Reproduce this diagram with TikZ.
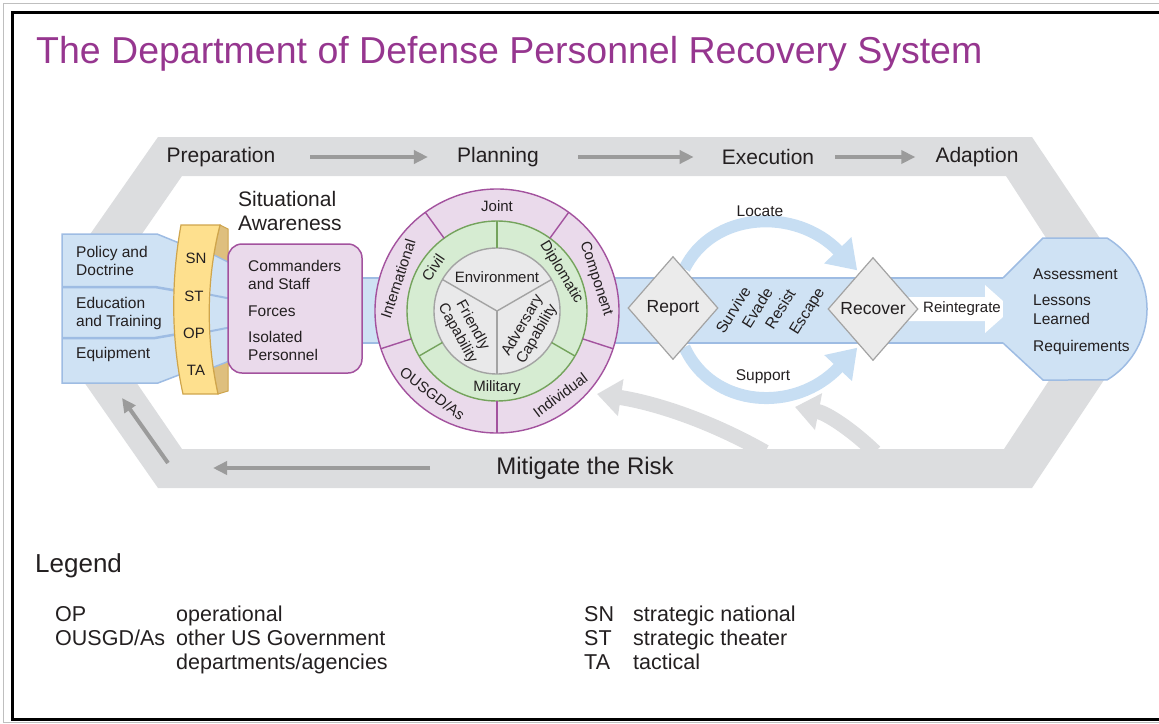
\documentclass[tikz,border=0pt]{standalone}
\usepackage{fontspec}
\setmainfont{Liberation Sans}
\usetikzlibrary{arrows.meta,shapes.geometric,calc}
\newcommand\fsz[2]{\fontsize{#1}{#2}\selectfont}
\definecolor{bandgray}{HTML}{DCDDDF}
\definecolor{arrgray}{HTML}{9B9B9B}
\definecolor{blfill}{HTML}{CFE2F4}
\definecolor{blline}{HTML}{9EBCE3}
\definecolor{ltblue}{HTML}{C7DEF3}
\definecolor{pkfill}{HTML}{EADAEB}
\definecolor{pkline}{HTML}{A3529E}
\definecolor{gnfill}{HTML}{D6ECD2}
\definecolor{gnline}{HTML}{74A35C}
\definecolor{gyfill}{HTML}{E9E9EA}
\definecolor{gyline}{HTML}{A3A3A3}
\definecolor{diafill}{HTML}{EBEBEB}
\definecolor{ylfill}{HTML}{FEE08E}
\definecolor{ylline}{HTML}{CFA54C}
\definecolor{yldark}{HTML}{DEBF7E}
\definecolor{titlec}{HTML}{96368F}
\definecolor{txt}{HTML}{231F20}
\pgfdeclarelayer{bg}
\pgfdeclarelayer{arr}
\pgfsetlayers{bg,arr,main}
\begin{document}
\begin{tikzpicture}[x=1pt,y=-1pt,
  every node/.style={text=txt, inner sep=0pt},
  phase/.style={font={\fsz{21}{24}}},
  lbl/.style={font={\fsz{15.5}{18}}},
  clbl/.style={font={\fsz{15}{17}}},
  exlbl/.style={font={\fsz{15.5}{17}}},
  legtxt/.style={anchor=base west, font={\fsz{21.5}{24}}},
  bandarrow/.style={draw=arrgray, line width=4pt, -{Triangle[length=14pt,width=13pt]}},
  bigarrow/.style={draw=bandgray, line width=15pt, -{Triangle[length=24pt,width=36pt]}},
  bluearrow/.style={draw=ltblue, line width=12pt, -{Triangle[length=28pt,width=36pt]}},
  dia/.style={diamond, draw=gyline, fill=diafill, line width=1.2pt, minimum width=90pt, minimum height=103pt, inner sep=0pt, font={\fsz{17.5}{20}}},
]
\useasboundingbox (0,0) rectangle (1159,723);
\clip (0,0) rectangle (1159,723);

% frame
\draw[black!25, line width=1pt] (1170,3.5) -- (3.5,3.5) -- (3.5,722.5) -- (1170,722.5);
\draw[black, line width=2.5pt] (1170,12.5) -- (12.5,12.5) -- (12.5,719.5) -- (1170,719.5);

% title
\node[anchor=base west, text=titlec, font={\fsz{37.5}{42}}] (title) at (36,63) {The Department of Defense Personnel Recovery System};

\begin{pgfonlayer}{bg}
  % hexagonal cycle band
  \fill[bandgray, even odd rule]
    (158,137) -- (1032,137) -- (1130,283) -- (1130,341) -- (1032,488) -- (158,488) -- (70,362) -- (70,263) -- cycle
    (182,176) -- (1006,176) -- (1094,312) -- (1004,449) -- (182,449) -- (88,312) -- cycle;
  % curved return arrows
  \coordinate (g1s) at (765,452);
  \coordinate (g1e) at (597,394);
  \draw[bigarrow] (g1s) .. controls (705,418) and (650,402) .. (g1e);
  \coordinate (g2s) at (875,452);
  \coordinate (g2e) at (795,407);
  \draw[bigarrow] (g2s) .. controls (850,428) and (826,413) .. (g2e);
  % blue main band
  \fill[blfill] (355,278) rectangle (1012,343);
  \draw[blline, line width=1.5pt] (355,278) -- (1012,278);
  \draw[blline, line width=1.5pt] (355,343) -- (1012,343);
\end{pgfonlayer}

% phase labels
\node[phase] (prep) at (221,157) {Preparation};
\node[phase] (plan) at (498,157) {Planning};
\node[phase] (exec) at (768,157) {Execution};
\node[phase] (adap) at (977,157) {Adaption};
\draw[bandarrow, shorten <=35pt, shorten >=29pt] (prep.east) -- (plan.west);
\draw[bandarrow, shorten <=39pt, shorten >=28pt] (plan.east) -- (exec.west);
\draw[bandarrow, shorten <=21pt, shorten >=20pt] (exec.east) -- (adap.west);

\node[font={\fsz{24}{27}}] (mit) at (585,468) {Mitigate the Risk};
\coordinate (mitend) at (213,468);
\draw[bandarrow, shorten <=66pt] (mit.west) -- (mitend);
\coordinate (la1) at (168,463);
\coordinate (la2) at (122,398);
\draw[bandarrow] (la1) -- (la2);

% left blue box
\fill[blfill, draw=blline, line width=1.5pt] (62,234) -- (157,234) -- (184,245) -- (184,373) -- (158,383) -- (62,383) -- cycle;
\draw[blline, line width=2.5pt] (62,287) -- (155,287) -- (184,292);
\draw[blline, line width=2.5pt] (62,338) -- (155,338) -- (184,333);
\node[lbl, anchor=north west, align=left] (pol) at (76,246.5) {Policy and\\Doctrine};
\node[lbl, anchor=north west, align=left] (edu) at (76,297.5) {Education\\and Training};
\node[lbl, anchor=base west] (equ) at (76,358.5) {Equipment};

% yellow level band (dark inner side)
\fill[yldark, draw=ylline, line width=1pt] (220,225) -- (228,229) -- (228,391) -- (218,394) .. controls (206,340) and (206,280) .. (220,225) -- cycle;
% blue fan into situational awareness
\fill[blfill] (196,246) -- (232,264) -- (232,360) -- (196,374) -- cycle;
\draw[blline, line width=1.5pt] (196,246) -- (232,264);
\draw[blline, line width=1.5pt] (196,374) -- (232,360);
\draw[blline, line width=2pt] (196,292) -- (232,299);
\draw[blline, line width=2pt] (196,334) -- (232,327);
% yellow front face
\fill[ylfill, draw=ylline, line width=1.2pt] (181,225) -- (220,225) .. controls (206,280) and (206,340) .. (218,394) -- (183,394) .. controls (171,340) and (171,280) .. (181,225) -- cycle;
\node[font={\fsz{15}{17}}] (sn) at (196,258) {SN};
\node[font={\fsz{15}{17}}] (st) at (194,296) {ST};
\node[font={\fsz{15}{17}}] (op) at (194,333) {OP};
\node[font={\fsz{15}{17}}] (ta) at (196,370) {TA};

% situational awareness
\node[anchor=north west, align=left, font={\fsz{21}{24}}] (sitaw) at (238,191.5) {Situational\\Awareness};
\node[draw=pkline, fill=pkfill, line width=1.5pt, rounded corners=14pt, minimum width=134pt, minimum height=129pt] (sabox) at (295,308.5) {};
\node[lbl, anchor=north west, align=left] (satxt) at (248,260.5) {Commanders\\and Staff\\[9pt]Forces\\[8pt]Isolated\\Personnel};

% planning circle
\begin{scope}[shift={(497,311)}, y=1pt]
  \node[circle, fill=pkfill, draw=pkline, line width=1.4pt, minimum size=244pt] (ring) at (0,0) {};
  \node[circle, fill=gnfill, draw=gnline, line width=1.4pt, minimum size=180pt] (gring) at (0,0) {};
  \node[circle, fill=gyfill, draw=gyline, line width=1.4pt, minimum size=126pt] (core) at (0,0) {};
  \foreach \a in {54,126,198,270,342} \draw[pkline, line width=1.4pt] (\a:90) -- (\a:122);
  \foreach \a in {90,210,330} \draw[gnline, line width=1.4pt] (\a:63) -- (\a:90);
  \foreach \a in {30,150,270} \draw[gyline, line width=1.4pt] (0,0) -- (\a:63);
  \node[clbl] (joint) at (90:105) {Joint};
  \node[clbl, rotate=72] (intl) at (162:104) {International};
  \node[clbl, rotate=-72] (comp) at (18:104) {Component};
  \node[clbl, rotate=-37] (ousg) at (232:105) {OUSGD/As};
  \node[clbl, rotate=37] (indiv) at (307:105) {Individual};
  \node[clbl, rotate=56] (civil) at (146:77) {Civil};
  \node[clbl, rotate=-59] (dipl) at (31:75) {Diplomatic};
  \node[clbl] (mil) at (270:77) {Military};
  \node[clbl] (env) at (0,34) {Environment};
  \node[clbl, rotate=-61, align=center] (fri) at (210:37) {Friendly\\Capability};
  \node[clbl, rotate=60, align=center] (adv) at (330:38) {Adversary\\Capability};
\end{scope}

% execution
\node[dia] (rep) at (673,308) {Report};
\node[dia] (rec) at (873,309) {Recover};
\begin{pgfonlayer}{arr}
  \draw[bluearrow, shorten >=3pt] ($(rep.north)!0.25!(rep.east)$) .. controls (712,212) and (795,206) .. ($(rec.north)!0.3!(rec.west)$);
  \draw[bluearrow, shorten >=3pt] ($(rep.south)!0.25!(rep.east)$) .. controls (712,408) and (795,414) .. ($(rec.south)!0.3!(rec.west)$);
  \fill[white] (905,297) -- (985,297) -- (985,285) -- (1012,309) -- (985,333) -- (985,321) -- (905,321) -- cycle;
\end{pgfonlayer}
\node[exlbl] (loc) at (760,211) {Locate};
\node[exlbl] (sup) at (763,377) {Support};
\node[exlbl, rotate=58] (surv) at (733,310) {Survive};
\node[exlbl, rotate=58] (evad) at (757,308) {Evade};
\node[exlbl, rotate=58] (resi) at (780,309) {Resist};
\node[exlbl, rotate=58] (esca) at (808,312) {Escape};
\node[font={\fsz{15}{17}}] (reint) at (962,309) {Reintegrate};

% adaption shape
\fill[blfill] (1003,278) -- (1043,238) -- (1107,238) arc[start angle=-58.8, end angle=58.8, radius=83] -- (1043,380) -- (1003,343) -- cycle;
\draw[blline, line width=1.5pt] (1003,278) -- (1043,238) -- (1107,238) arc[start angle=-58.8, end angle=58.8, radius=83] -- (1043,380) -- (1003,343);
\node[font={\fsz{15.5}{19}}, anchor=north west, align=left] (adapt) at (1033,268.5) {Assessment\\[7pt]Lessons\\Learned\\[8pt]Requirements};

% legend
\node[anchor=base west, font={\fsz{26}{29}}] (leg) at (35,572) {Legend};
\node[legtxt] (l1a) at (55,621) {OP};
\node[legtxt] (l1b) at (176,621) {operational};
\node[legtxt] (l2a) at (55,645) {OUSGD/As};
\node[legtxt] (l2b) at (176,645) {other US Government};
\node[legtxt] (l2c) at (176,669) {departments/agencies};
\node[legtxt] (r1a) at (584,621) {SN};
\node[legtxt] (r1b) at (633,621) {strategic national};
\node[legtxt] (r2a) at (584,645) {ST};
\node[legtxt] (r2b) at (633,645) {strategic theater};
\node[legtxt] (r3a) at (584,669) {TA};
\node[legtxt] (r3b) at (633,669) {tactical};
\end{tikzpicture}
\end{document}
